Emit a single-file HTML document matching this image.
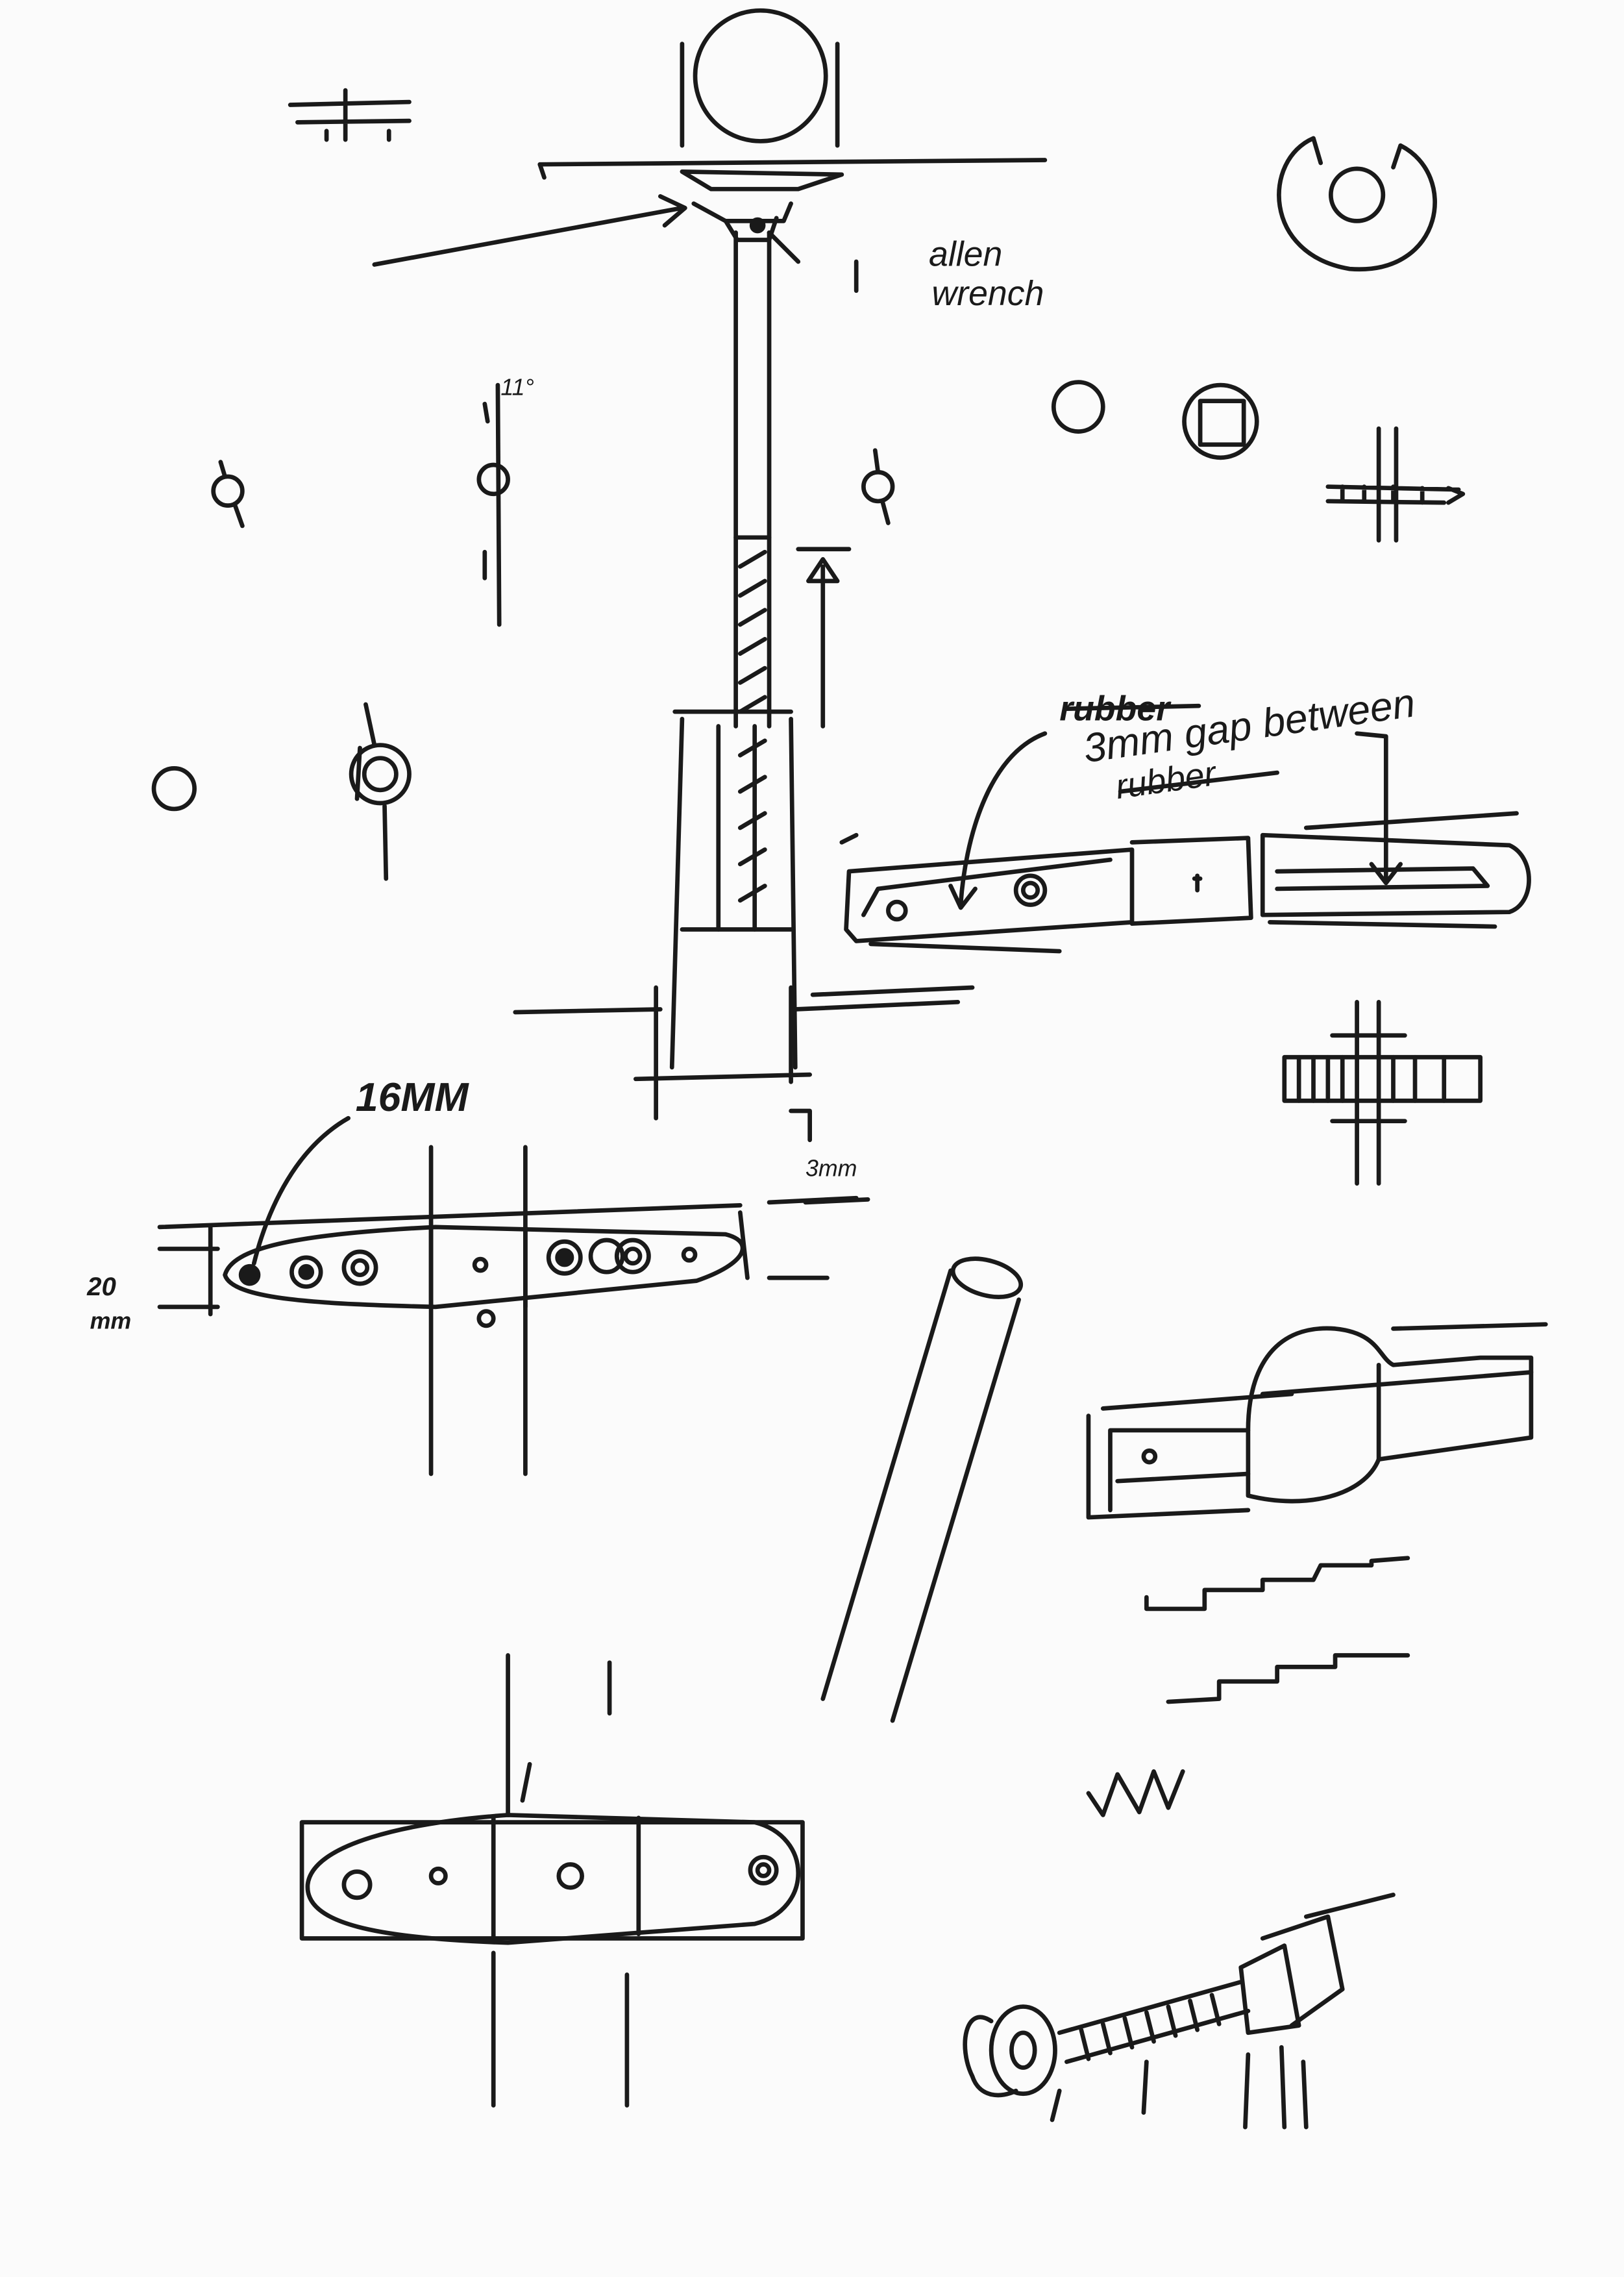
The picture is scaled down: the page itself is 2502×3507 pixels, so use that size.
<!DOCTYPE html>
<html><head><meta charset="utf-8"><style>
html,body{margin:0;padding:0;background:#fbfbfb;}
svg{display:block}
text{font-family:"Liberation Sans",sans-serif;fill:#1a1a1a;font-style:italic}
</style></head><body>
<svg width="2502" height="3507" viewBox="0 0 1119 1568" xmlns="http://www.w3.org/2000/svg">
<rect width="1119" height="1568" fill="#fbfbfb"/>
<g fill="none" stroke="#1a1a1a" stroke-width="3" stroke-linecap="round" stroke-linejoin="round">
<!-- top circle -->
<circle cx="524" cy="52" r="45"/>
<line x1="470" y1="30" x2="470" y2="100"/><line x1="577" y1="30" x2="577" y2="100"/>
<path d="M372 113 L720 110"/><line x1="372" y1="113" x2="375" y2="122"/>
<path d="M470 118 L580 120 L550 130 L490 130 Z"/>
<!-- small top-left part -->
<path d="M200 72 L282 70 M205 84 L282 83 M238 62 L238 96 M225 90 l0 6 M268 90 l0 6"/>
<!-- right circle -->
<path d="M905 95 C870 110 870 175 930 185 C995 190 1005 120 965 100 L960 115 M910 112 L905 95"/>
<circle cx="935" cy="134" r="18"/>
<!-- allen wrench arrow -->
<path d="M258 182 L470 143 M455 135 L472 143 L458 155"/>
<path d="M478 140 L500 152 L540 152 L545 140 M500 152 L508 165 L530 165 L535 150"/>
<circle cx="522" cy="155" r="4" fill="#1a1a1a"/>
<path d="M530 160 L550 180"/><path d="M590 180 L590 200"/>
<!-- pole -->
<line x1="507" y1="160" x2="507" y2="500"/><line x1="530" y1="160" x2="530" y2="500"/>
<line x1="507" y1="370" x2="530" y2="370"/>
<path d="M510 390 L527 380 M510 410 L527 400 M510 430 L527 420 M510 450 L527 440 M510 470 L527 460 M510 490 L527 480"/>
<path d="M510 520 L527 510 M510 545 L527 535 M510 570 L527 560 M510 595 L527 585 M510 620 L527 610"/>
<line x1="495" y1="500" x2="495" y2="640"/><line x1="520" y1="500" x2="520" y2="640"/>
<!-- arrow up -->
<line x1="567" y1="500" x2="567" y2="390"/><path d="M557 400 L567 385 L577 400 Z"/>
<path d="M550 378 L585 378"/>
<!-- sleeve -->
<path d="M465 490 L545 490 M470 495 L463 735 M545 495 L548 735 M470 640 L545 640"/>
<path d="M355 697 L455 695 M548 695 L660 690 M560 685 L670 680"/>
<path d="M438 743 L558 740 M452 680 L452 770 M545 680 L545 745"/>
<path d="M545 765 L558 765 L558 785"/>
<path d="M555 828 L598 826"/>
<!-- small circles -->
<circle cx="157" cy="338" r="10"/><path d="M152 318 L155 328 M162 348 L167 362"/>
<circle cx="340" cy="330" r="10"/><line x1="343" y1="265" x2="344" y2="430"/><path d="M334 278 L336 290 M334 380 L334 398"/>
<circle cx="605" cy="335" r="10"/><path d="M603 310 L605 325 M608 345 L612 360"/>
<circle cx="120" cy="543" r="14"/>
<circle cx="262" cy="533" r="20"/><circle cx="262" cy="533" r="11"/>
<path d="M252 485 L258 513 M265 555 L266 605 M248 515 L246 550"/>
<!-- right small -->
<circle cx="743" cy="280" r="17"/>
<circle cx="841" cy="290" r="25"/><rect x="827" y="276" width="30" height="30"/>
<path d="M915 335 L1005 337 M915 345 L995 346 M925 335 L925 345 M940 335 L940 345 M960 335 L960 345 M980 336 L980 346 M998 336 L1008 340 L998 346"/>
<path d="M950 295 L950 372 M962 295 L962 372"/>
<!-- right hinge -->
<path d="M583 640 L585 600 L780 585 L780 635 L590 648 Z"/>
<path d="M595 630 L605 612 L765 592"/>
<circle cx="618" cy="627" r="6"/><circle cx="710" cy="613" r="10"/><circle cx="710" cy="613" r="5"/>
<path d="M780 580 L860 577 L862 632 L780 636"/>
<path d="M825 603 l0 10 M823 605 l4 0"/>
<path d="M870 575 L1040 582 C1058 590 1058 622 1040 628 L870 630 Z"/>
<path d="M880 600 L1015 598 L1025 610 L880 612"/>
<path d="M580 580 L590 575 M600 650 L730 655 M875 635 L1030 638 M900 570 L1045 560"/>
<path d="M720 505 C680 520 665 580 662 622 M655 610 L662 625 L672 612"/>
<path d="M935 505 L955 507 L955 605 M945 595 L955 608 L965 595"/>
<line x1="735" y1="488" x2="826" y2="486"/>
<line x1="772" y1="545" x2="880" y2="532"/>
<!-- cross right -->
<rect x="885" y="728" width="135" height="30"/>
<path d="M895 728 L895 758 M905 728 L905 758 M915 728 L915 758 M925 728 L925 758 M960 728 L960 758 M975 728 L975 758 M995 728 L995 758"/>
<path d="M935 690 L935 815 M950 690 L950 815 M918 713 L968 713 M918 772 L968 772"/>
<!-- middle hinge -->
<path d="M155 878 C160 860 200 850 300 845 L500 850 C520 855 515 870 480 882 L300 900 C220 898 160 895 155 878 Z"/>
<path d="M297 845 L297 900 M362 845 L362 900"/>
<circle cx="172" cy="878" r="6" fill="#1a1a1a"/>
<circle cx="211" cy="876" r="10"/><circle cx="211" cy="876" r="4" fill="#1a1a1a"/>
<circle cx="248" cy="873" r="11"/><circle cx="248" cy="873" r="5"/>
<circle cx="331" cy="871" r="4"/>
<circle cx="389" cy="866" r="11"/><circle cx="389" cy="866" r="5" fill="#1a1a1a"/>
<circle cx="418" cy="865" r="11"/><circle cx="436" cy="865" r="11"/><circle cx="436" cy="865" r="5"/>
<circle cx="475" cy="864" r="4"/><circle cx="335" cy="908" r="5"/>
<path d="M297 790 L297 1015 M362 790 L362 1015"/>
<path d="M110 845 L510 830 M110 860 L150 860 M110 900 L150 900 M145 845 L145 905 M510 835 L515 880 M530 880 L570 880 M530 828 L590 825"/>
<path d="M240 770 C205 790 185 830 175 870"/>
<!-- tube -->
<ellipse cx="680" cy="880" rx="24" ry="12" transform="rotate(15 680 880)"/>
<path d="M655 875 L567 1170 M702 895 L615 1185"/>
<!-- right hinge sketch -->
<path d="M750 975 L750 1045 L860 1040 M760 970 L890 960 M765 985 L765 1040 M765 985 L860 985 M770 1020 L860 1015"/>
<path d="M860 985 C860 940 880 912 920 915 C950 918 950 935 960 940 L1020 935 L1055 935 L1055 990 L950 1005 C940 1030 900 1040 860 1030 Z"/>
<path d="M950 940 L950 1005 M960 915 L1065 912 M870 960 L1055 945"/>
<circle cx="792" cy="1003" r="4"/>
<!-- square waves -->
<path d="M790 1100 L790 1108 L830 1108 L830 1095 L870 1095 L870 1088 L905 1088 L910 1078 L945 1078 L945 1075 L970 1073"/>
<path d="M805 1172 L840 1170 L840 1158 L880 1158 L880 1148 L920 1148 L920 1140 L970 1140"/>
<path d="M750 1235 L760 1250 L770 1222 L785 1248 L795 1220 L805 1245 L815 1220"/>
<!-- bottom hinge -->
<path d="M212 1298 C215 1270 280 1255 350 1250 L520 1255 C560 1265 560 1315 520 1325 L350 1338 C260 1335 210 1325 212 1298 Z"/>
<path d="M340 1252 L340 1336 M440 1252 L440 1332"/>
<rect x="208" y="1255" width="345" height="80"/>
<circle cx="246" cy="1298" r="9"/><circle cx="302" cy="1292" r="5"/><circle cx="393" cy="1292" r="8"/><circle cx="526" cy="1288" r="9"/><circle cx="526" cy="1288" r="4"/>
<path d="M340 1345 L340 1450 M350 1140 L350 1250 M432 1360 L432 1450 M420 1145 L420 1180 M365 1215 L360 1240"/>
<!-- bolt -->
<path d="M730 1400 L855 1365 M735 1420 L860 1385"/>
<path d="M745 1398 L750 1418 M760 1394 L765 1414 M775 1390 L780 1410 M790 1386 L795 1406 M805 1382 L810 1402 M820 1378 L825 1398 M835 1374 L840 1394"/>
<ellipse cx="705" cy="1412" rx="22" ry="30"/><ellipse cx="705" cy="1412" rx="8" ry="12"/>
<path d="M683 1392 C665 1380 660 1410 670 1430 C675 1445 690 1445 700 1440"/>
<path d="M855 1355 L885 1340 L895 1395 L860 1400 Z M870 1335 L915 1320 L925 1370 L890 1395 M900 1320 L960 1305"/>
<path d="M788 1455 L790 1420 M860 1415 L858 1465 M883 1410 L885 1465 M898 1420 L900 1465 M730 1440 L725 1460"/>
</g>
<text x="640" y="183" font-size="24">allen</text>
<text x="642" y="210" font-size="24">wrench</text>
<text x="345" y="272" font-size="16">11°</text>
<text x="730" y="496" font-size="24" font-weight="bold">rubber</text>
<text x="748" y="525" font-size="28" transform="rotate(-8 748 525)">3mm gap between</text>
<text x="770" y="550" font-size="24" transform="rotate(-8 770 550)">rubber</text>
<text x="245" y="765" font-size="28" font-weight="bold">16MM</text>
<text x="60" y="892" font-size="18" font-weight="bold">20</text>
<text x="62" y="915" font-size="16" font-weight="bold">mm</text>
<text x="555" y="810" font-size="16">3mm</text>
</svg>
</body></html>
